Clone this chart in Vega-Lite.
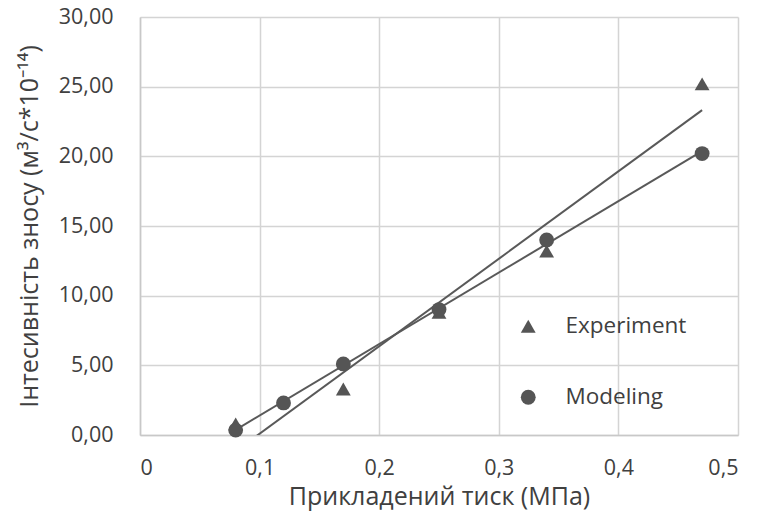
{
  "$schema": "https://vega.github.io/schema/vega-lite/v6.json",
  "width": 598,
  "height": 418,
  "autosize": "none",
  "padding": {"left": 140, "top": 17, "right": 20, "bottom": 83},
  "background": "white",
  "config": {
    "locale": {"number": {"decimal": ",", "thousands": " ", "grouping": [3], "currency": ["", ""]}},
    "view": {"stroke": null},
    "font": "Open Sans",
    "axis": {
      "gridColor": "#d4d4d4", "gridWidth": 1.5, "domainColor": "#c8c8c8", "domainWidth": 1.5,
      "ticks": false, "labelColor": "#404040", "labelFontSize": 21.5, "titleColor": "#404040",
      "titleFontSize": 25, "titleFontWeight": "normal", "labelFont": "Open Sans", "titleFont": "Open Sans"
    }
  },
  "data": {
    "values": [
      {"series": "Experiment", "x": 0.08, "y": 0.8},
      {"series": "Experiment", "x": 0.17, "y": 3.3},
      {"series": "Experiment", "x": 0.25, "y": 8.8},
      {"series": "Experiment", "x": 0.34, "y": 13.2},
      {"series": "Experiment", "x": 0.47, "y": 25.2},
      {"series": "Modeling", "x": 0.08, "y": 0.35},
      {"series": "Modeling", "x": 0.12, "y": 2.3},
      {"series": "Modeling", "x": 0.17, "y": 5.1},
      {"series": "Modeling", "x": 0.25, "y": 9.0},
      {"series": "Modeling", "x": 0.34, "y": 14.0},
      {"series": "Modeling", "x": 0.47, "y": 20.2}
    ]
  },
  "layer": [
    {
      "transform": [{"regression": "y", "on": "x", "groupby": ["series"]}],
      "mark": {"type": "line", "color": "#595959", "strokeWidth": 2, "clip": true},
      "encoding": {
        "x": {"field": "x", "type": "quantitative"},
        "y": {"field": "y", "type": "quantitative"},
        "detail": {"field": "series"}
      }
    },
    {
      "mark": {"type": "point", "filled": true, "color": "#555555", "opacity": 1, "size": 220},
      "encoding": {
        "x": {
          "field": "x", "type": "quantitative",
          "scale": {"domain": [0, 0.5], "nice": false},
          "axis": {"values": [0, 0.1, 0.2, 0.3, 0.4, 0.5], "format": ".1~f", "labelPadding": 22, "title": "Прикладений тиск (МПа)", "titlePadding": 6}
        },
        "y": {
          "field": "y", "type": "quantitative",
          "scale": {"domain": [0, 30], "nice": false},
          "axis": {"values": [0, 5, 10, 15, 20, 25, 30], "format": ".2f", "labelPadding": 27, "title": "Інтесивність зносу (м³/с*10⁻¹⁴)", "titlePadding": 16}
        },
        "shape": {
          "field": "series", "type": "nominal",
          "scale": {"domain": ["Experiment", "Modeling"], "range": ["triangle-up", "circle"]},
          "legend": {
            "title": null, "orient": "none", "legendX": 377, "legendY": 298,
            "labelFontSize": 22.5, "labelColor": "#404040", "labelFont": "Open Sans",
            "symbolSize": 220, "symbolFillColor": "#555555", "symbolStrokeColor": "#555555",
            "rowPadding": 48, "labelOffset": 26
          }
        }
      }
    }
  ]
}
